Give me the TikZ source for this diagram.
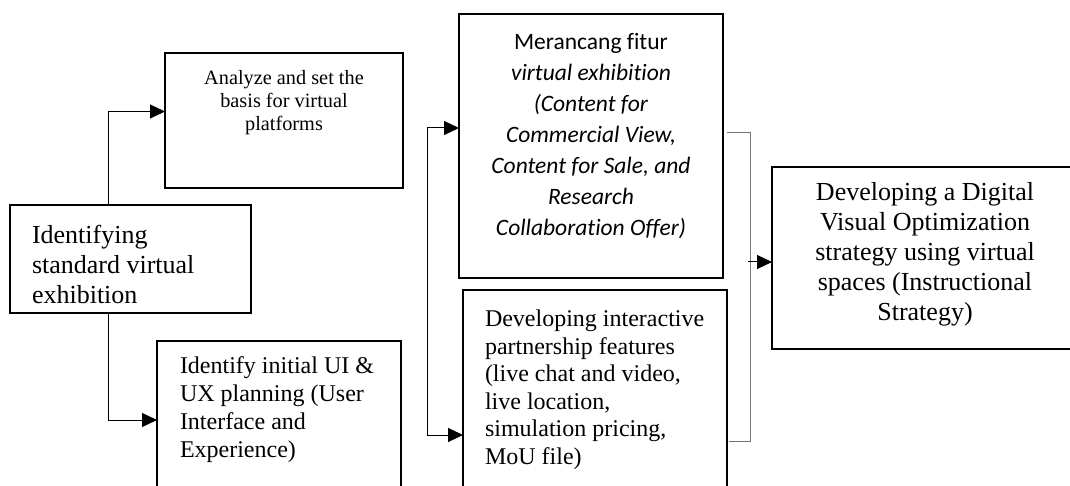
\documentclass[tikz,border=0pt]{standalone}
\usepackage{fontspec}
\setmainfont[Ligatures={NoCommon}]{Liberation Serif}
\newfontfamily\calibrifont[Ligatures={NoCommon,NoContextual}]{Carlito}
\usetikzlibrary{arrows.meta,calc}
\begin{document}
\begin{tikzpicture}[x=1pt,y=-1pt,
  box/.style={draw,line width=2pt,inner sep=0pt,outer sep=0pt,anchor=north west},
  txt/.style={inner sep=0pt,outer sep=0pt},
  arr/.style={line width=1pt,-{Triangle[length=15pt,width=14pt]}},
  brk/.style={line width=1pt,draw=black!55}]
\clip (0,0) rectangle (1070,486);
\fill[white] (0,0) rectangle (1070,486);
% boxes
\node[box,minimum width=241pt,minimum height=108pt] (A) at (10,205) {};
\node[box,minimum width=238pt,minimum height=135pt] (B) at (165,53) {};
\node[box,minimum width=244pt,minimum height=158pt] (C) at (157,341) {};
\node[box,minimum width=264pt,minimum height=264pt] (D) at (459,14) {};
\node[box,minimum width=264pt,minimum height=290pt] (E) at (463,290) {};
\node[box,minimum width=310pt,minimum height=182pt] (F) at (772,167) {};
% texts
\node[txt,anchor=north west,align=left,font=\fontsize{26}{30}\selectfont] (tA) at (32,225)
  {Identifying\\standard virtual\\exhibition};
\node[txt,anchor=north,align=center,font=\fontsize{20.3}{23}\selectfont] (tB) at (284,70)
  {Analyze and set the\\basis for virtual\\platforms};
\node[txt,anchor=north west,align=left,font=\fontsize{24}{27.7}\selectfont] (tC) at (180,357)
  {Identify initial UI \&\\UX planning (User\\Interface and\\Experience)};
\node[txt,anchor=north,align=center,font=\calibrifont\fontsize{23.5}{31}\selectfont] (tD) at (591,33)
  {Merancang fitur\\\textit{virtual exhibition}\\\textit{(Content for}\\\textit{Commercial View,}\\\textit{Content for Sale, and}\\\textit{Research}\\\textit{Collaboration Offer)}};
\node[txt,anchor=north west,align=left,font=\fontsize{24}{27.5}\selectfont] (tE) at (485,310)
  {Developing interactive\\partnership features\\(live chat and video,\\live location,\\simulation pricing,\\MoU file)};
\node[txt,anchor=north,align=center,font=\fontsize{26}{30}\selectfont] (tF) at (925,182)
  {Developing a Digital\\Visual Optimization\\strategy using virtual\\spaces (Instructional\\Strategy)};
% connectors from A
\draw[arr] ([xshift=98pt]A.north west) |- ([yshift=9pt]B.west);
\draw[arr] ([xshift=98pt]A.south west) |- (C.west);
% fork into D and E
\coordinate (jt) at (427,128);
\coordinate (jb) at (427,435);
\draw[arr] (jt) -- (jt -| D.west);
\draw[arr] (jt) -- (jb) -- (jb -| E.west);
% bracket into F
\coordinate (bt) at (750,133);
\coordinate (bb) at (750,441);
\draw[brk] ([xshift=4pt]D.east |- bt) -- (bt) -- (bb) -- ([xshift=2pt]E.east |- bb);
\coordinate (bm) at ($(F.west)+(-24,4)$);
\draw[arr] (bm) -- (bm -| F.west);
\end{tikzpicture}
\end{document}
